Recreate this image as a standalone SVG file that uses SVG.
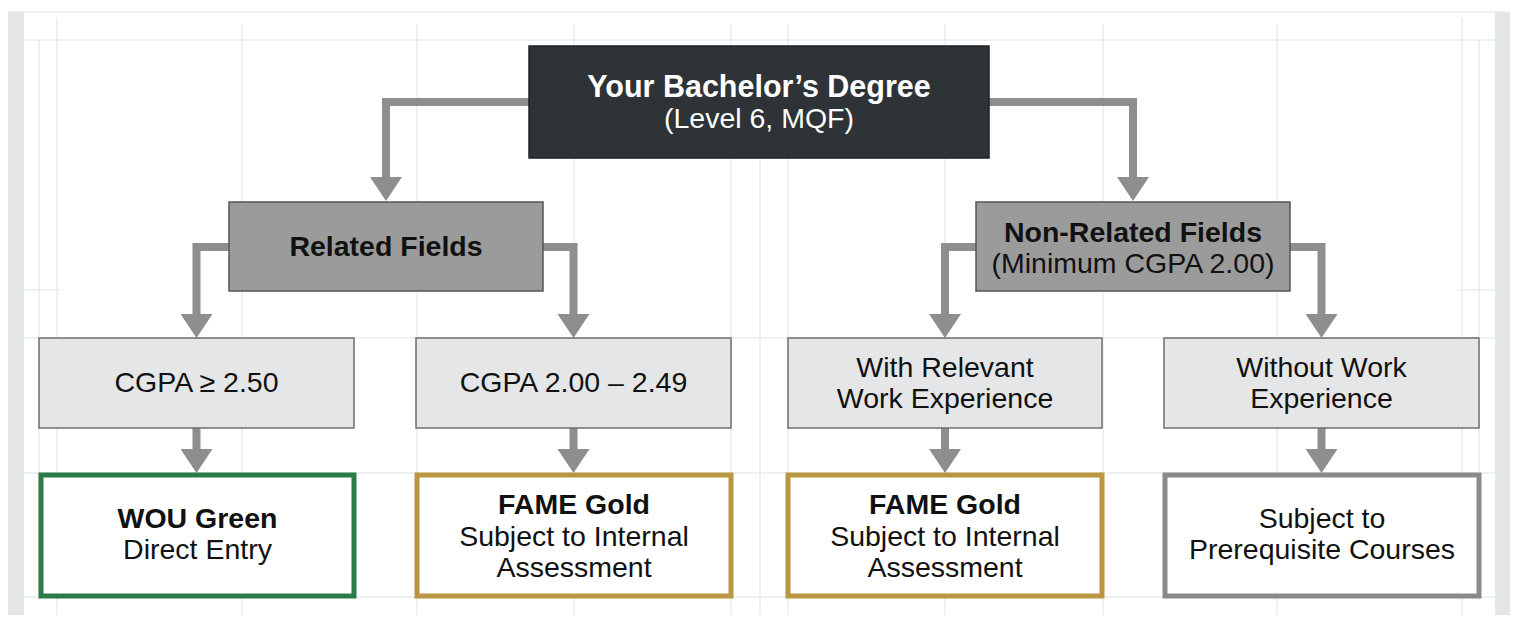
<svg xmlns="http://www.w3.org/2000/svg" width="1517" height="622" viewBox="0 0 1517 622">
  <style>
    .grid { stroke: #e9ecec; stroke-width: 1.5; fill: none; }
    .band { fill: #e3e6e6; }
    .conn { stroke: #8e8e8e; stroke-width: 8; fill: none; marker-end: url(#arrow); }
    .top { fill: #2d3336; stroke: #1f2326; stroke-width: 1.5; }
    .mid { fill: #9b9b9b; stroke: #555; stroke-width: 1.5; }
    .cond { fill: #e4e6e7; stroke: #6e6e6e; stroke-width: 1.5; }
    .res { fill: #ffffff; stroke-width: 5; }
    .green { stroke: #2b7a47; }
    .gold { stroke: #b9963f; }
    .gray { stroke: #8a8a8a; }
    text { font-family: "Liberation Sans", Arial, Helvetica, sans-serif; text-anchor: middle; fill: #111; font-size: 28.5px; }
    .b { font-weight: bold; }
    .w { fill: #ffffff; }
  </style>
  <defs>
    <marker id="arrow" markerUnits="userSpaceOnUse" viewBox="0 -16 24 32" markerWidth="24" markerHeight="32" refX="0" refY="0" orient="auto">
      <path d="M0,-16 L24,0 L0,16 z" fill="#8e8e8e"/>
    </marker>
  </defs>

  <rect width="1517" height="622" fill="#ffffff"/>

  <g id="background">
    <rect class="band" x="8" y="12" width="16" height="603"/>
    <rect class="band" x="1495" y="12" width="15" height="603"/>
    <line class="grid" x1="8" y1="12" x2="1510" y2="12"/>
    <line class="grid" x1="24" y1="40" x2="1495" y2="40"/>
    <line class="grid" x1="24" y1="290" x2="60" y2="290"/>
    <line class="grid" x1="1458" y1="290" x2="1495" y2="290"/>
    <line class="grid" x1="24" y1="338" x2="1495" y2="338"/>
    <line class="grid" x1="24" y1="473" x2="1495" y2="473"/>
    <line class="grid" x1="24" y1="597" x2="1495" y2="597"/>
    <line class="grid" x1="39" y1="40" x2="39" y2="600"/>
    <line class="grid" x1="57" y1="18" x2="57" y2="615"/>
    <line class="grid" x1="242" y1="24" x2="242" y2="615"/>
    <line class="grid" x1="417" y1="24" x2="417" y2="615"/>
    <line class="grid" x1="574" y1="24" x2="574" y2="615"/>
    <line class="grid" x1="731" y1="24" x2="731" y2="615"/>
    <line class="grid" x1="760" y1="160" x2="760" y2="615"/>
    <line class="grid" x1="788" y1="24" x2="788" y2="615"/>
    <line class="grid" x1="945" y1="24" x2="945" y2="615"/>
    <line class="grid" x1="1103" y1="24" x2="1103" y2="615"/>
    <line class="grid" x1="1277" y1="24" x2="1277" y2="615"/>
    <line class="grid" x1="1462" y1="18" x2="1462" y2="615"/>
    <line class="grid" x1="1479" y1="40" x2="1479" y2="600"/>
  </g>

  <g id="connectors">
    <path class="conn" d="M530,102 H386 V177"/>
    <path class="conn" d="M988,102 H1133 V177"/>
    <path class="conn" d="M230,247 H196.5 V314"/>
    <path class="conn" d="M542,247 H573.5 V314"/>
    <path class="conn" d="M977,247 H945 V314"/>
    <path class="conn" d="M1289,247 H1321.5 V314"/>
    <path class="conn" d="M196.5,428 V449"/>
    <path class="conn" d="M573.5,428 V449"/>
    <path class="conn" d="M945,428 V449"/>
    <path class="conn" d="M1321.5,428 V449"/>
  </g>

  <g id="degree">
    <rect class="top" x="529" y="46" width="460" height="112"/>
    <text class="b w" x="759" y="97" style="font-size:30.5px">Your Bachelor’s Degree</text>
    <text class="w" x="759" y="128">(Level 6, MQF)</text>
  </g>

  <g id="related">
    <rect class="mid" x="229" y="202" width="314" height="89"/>
    <text class="b" x="386" y="256">Related Fields</text>
  </g>

  <g id="nonrelated">
    <rect class="mid" x="976" y="202" width="314" height="89"/>
    <text class="b" x="1133" y="242">Non-Related Fields</text>
    <text x="1133" y="273">(Minimum CGPA 2.00)</text>
  </g>

  <g id="cgpa250">
    <rect class="cond" x="39" y="338" width="315" height="90"/>
    <text x="196.5" y="392">CGPA ≥ 2.50</text>
  </g>

  <g id="cgpa200">
    <rect class="cond" x="416" y="338" width="315" height="90"/>
    <text x="573.5" y="392">CGPA 2.00 – 2.49</text>
  </g>

  <g id="withwork">
    <rect class="cond" x="788" y="338" width="314" height="90"/>
    <text x="945" y="377">With Relevant</text>
    <text x="945" y="408">Work Experience</text>
  </g>

  <g id="withoutwork">
    <rect class="cond" x="1164" y="338" width="315" height="90"/>
    <text x="1321.5" y="377">Without Work</text>
    <text x="1321.5" y="408">Experience</text>
  </g>

  <g id="wougreen">
    <rect class="res green" x="41" y="475" width="313" height="121"/>
    <text class="b" x="197.5" y="528">WOU Green</text>
    <text x="197.5" y="559">Direct Entry</text>
  </g>

  <g id="famegold1">
    <rect class="res gold" x="417" y="475" width="314" height="121"/>
    <text class="b" x="574" y="514">FAME Gold</text>
    <text x="574" y="546">Subject to Internal</text>
    <text x="574" y="577">Assessment</text>
  </g>

  <g id="famegold2">
    <rect class="res gold" x="788" y="475" width="314" height="121"/>
    <text class="b" x="945" y="514">FAME Gold</text>
    <text x="945" y="546">Subject to Internal</text>
    <text x="945" y="577">Assessment</text>
  </g>

  <g id="prereq">
    <rect class="res gray" x="1165" y="475" width="314" height="121"/>
    <text x="1322" y="528">Subject to</text>
    <text x="1322" y="559">Prerequisite Courses</text>
  </g>
</svg>
